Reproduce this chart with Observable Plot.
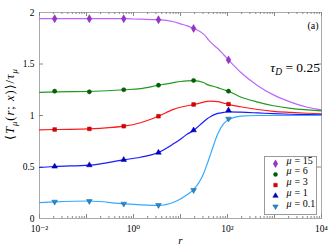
<!DOCTYPE html>
<html>
<head>
<meta charset="utf-8">
<script src="https://cdn.jsdelivr.net/npm/d3@7"></script>
<script src="https://cdn.jsdelivr.net/npm/@observablehq/plot@0.6"></script>
<style>
  html, body { margin: 0; padding: 0; background: #fff; }
  #wrap { position: relative; width: 332px; height: 249px; font-family: "Liberation Serif", "Times New Roman", "DejaVu Serif", serif; }
  #wrap svg, #wrap svg text { font-family: "Liberation Serif", "Times New Roman", "DejaVu Serif", serif; }
  .ov { position: absolute; white-space: nowrap; color: #000; font-family: "Liberation Serif", "Times New Roman", "DejaVu Serif", serif; }
  .ov sub { font-size: 70%; vertical-align: -0.3em; line-height: 0; }
</style>
</head>
<body>
<div id="wrap"></div>
<script>
// ---- data ----
const rCurve = [0.01, 0.021, 0.115, 0.62, 1.4, 3.4, 7.1, 10, 14, 19, 31, 37, 44, 62, 83, 105, 190, 440, 950, 2200, 5000, 10000];
const curveMu15 = [1.94, 1.94, 1.94, 1.94, 1.935, 1.93, 1.91, 1.89, 1.87, 1.845, 1.79, 1.75, 1.71, 1.65, 1.59, 1.54, 1.42, 1.29, 1.20, 1.13, 1.08, 1.055];
const curveMu6  = [1.225, 1.23, 1.233, 1.25, 1.26, 1.294, 1.32, 1.33, 1.336, 1.338, 1.32, 1.30, 1.29, 1.27, 1.25, 1.236, 1.18, 1.13, 1.095, 1.07, 1.055, 1.045];
const curveMu3  = [0.86, 0.864, 0.87, 0.896, 0.93, 0.993, 1.06, 1.08, 1.095, 1.105, 1.13, 1.137, 1.14, 1.135, 1.12, 1.108, 1.085, 1.058, 1.04, 1.03, 1.022, 1.017];
const curveMu1  = [0.495, 0.505, 0.518, 0.57, 0.595, 0.641, 0.725, 0.77, 0.82, 0.855, 0.94, 0.968, 0.99, 1.02, 1.03, 1.035, 1.032, 1.025, 1.018, 1.012, 1.008, 1.006];
const curveMu01 = [0.155, 0.162, 0.17, 0.143, 0.133, 0.127, 0.158, 0.19, 0.233, 0.28, 0.436, 0.53, 0.63, 0.82, 0.92, 0.958, 0.993, 1.0, 1.0, 1.0, 1.0, 1.0];

const rMarks = [0.021, 0.115, 0.62, 3.4, 19, 105];
const markMu15 = [1.94, 1.94, 1.94, 1.93, 1.845, 1.54];
const markMu6  = [1.236, 1.23, 1.25, 1.294, 1.34, 1.236];
const markMu3  = [0.864, 0.87, 0.896, 0.993, 1.107, 1.11];
const markMu1  = [0.505, 0.518, 0.57, 0.64, 0.857, 1.05];
const markMu01 = [0.162, 0.168, 0.143, 0.13, 0.275, 0.968];

const muLabels = ["15", "6", "3", "1", "0.1"];
const curves = [curveMu15, curveMu6, curveMu3, curveMu1, curveMu01];
const marks = [markMu15, markMu6, markMu3, markMu1, markMu01];
const lineColors = ["#bb66ff", "#1f9a1f", "#ff1a1a", "#1a1aff", "#33aaff"];
const markColors = ["#9933cc", "#006400", "#dd0000", "#0000cc", "#2288cc"];
const symbols = ["diamond", "circle", "square", "triangle", "triangle"];
const rotations = [0, 0, 0, 0, 180];

const xMajorTicks = [0.01, 0.1, 1, 10, 100, 1000, 10000];
const xLabelTicks = [0.01, 1, 100, 10000];
const xLabelText = ["10\u207B\u00B2", "10\u2070", "10\u00B2", "10\u2074"];
const yTicks = [0, 0.5, 1, 1.5, 2];
const yInnerTicks = [0.5, 1, 1.5];

// minor log ticks (axis decoration)
const xMinorTicks = [];
for (let e = -2; e < 4; e++) for (let k = 2; k <= 9; k++) xMinorTicks.push(k * Math.pow(10, e));

// ---- tables ----
const lineData = [];
curves.forEach((vals, s) => vals.forEach((v, i) => lineData.push({r: rCurve[i], v, s})));
const markData = [];
marks.forEach((vals, s) => vals.forEach((v, i) => markData.push({r: rMarks[i], v, s})));

const W = 332, H = 249, mL = 39, mR = 11, mT = 12, mB = 31;
const fw = W - mL - mR, fh = H - mT - mB;
const tickCol = "#888";
const FONT = '"Liberation Serif", "Times New Roman", "DejaVu Serif", serif';

const plotMarks = [
  Plot.frame({stroke: "#aaa"}),
  Plot.tickX(xMajorTicks, {x: d => d, insetTop: fh - 4, stroke: tickCol}),
  Plot.tickX(xMinorTicks, {x: d => d, insetTop: fh - 2, stroke: tickCol}),
  Plot.tickX(xMajorTicks, {x: d => d, insetBottom: fh - 4, stroke: tickCol}),
  Plot.tickX(xMinorTicks, {x: d => d, insetBottom: fh - 2, stroke: tickCol}),
  Plot.tickY(yInnerTicks, {y: d => d, insetRight: fw - 4, stroke: tickCol}),
  Plot.tickY(yInnerTicks, {y: d => d, insetLeft: fw - 4, stroke: tickCol}),
  Plot.axisX({ticks: xLabelTicks, tickSize: 0, tickPadding: 7, tickFormat: d => xLabelText[xLabelTicks.indexOf(d)], fontSize: 9.5, fontFamily: FONT, label: null}),
  Plot.axisY({ticks: yTicks, tickSize: 0, tickPadding: 5, tickFormat: d => String(d), fontSize: 9.5, fontFamily: FONT, label: null}),
];

curves.forEach((_, s) => {
  plotMarks.push(Plot.line(lineData.filter(d => d.s === s), {x: "r", y: "v", stroke: lineColors[s], strokeWidth: 1.2, curve: "monotone-x"}));
});
marks.forEach((_, s) => {
  plotMarks.push(Plot.dot(markData.filter(d => d.s === s), {x: "r", y: "v", symbol: symbols[s], rotate: rotations[s], r: s === 0 ? 2.4 : 2.1, fill: markColors[s], stroke: d3.color(markColors[s]).darker(0.8).formatHex(), strokeWidth: 0.5}));
});

// legend entries
muLabels.forEach((mu, s) => {
  const dy = -(12 + (4 - s) * 10.7);
  plotMarks.push(Plot.dot([0], {frameAnchor: "bottom-right", dx: -46, dy, symbol: symbols[s], rotate: rotations[s], r: s === 0 ? 2.3 : 2.0, fill: markColors[s], stroke: d3.color(markColors[s]).darker(0.8).formatHex(), strokeWidth: 0.5}));
  plotMarks.push(Plot.text(["\u03BC"], {frameAnchor: "bottom-right", dx: -35, dy, textAnchor: "start", fontStyle: "italic", fontSize: 10, fontFamily: FONT}));
  plotMarks.push(Plot.text(["= " + mu], {frameAnchor: "bottom-right", dx: -27, dy, textAnchor: "start", fontSize: 10, fontFamily: FONT}));
});

// x label
plotMarks.push(Plot.text(["r"], {frameAnchor: "bottom", dy: 25, fontStyle: "italic", fontSize: 11, fontFamily: FONT}));
// panel tag
plotMarks.push(Plot.text(["(a)"], {frameAnchor: "top-right", dx: -3, dy: 9, textAnchor: "end", fontSize: 10, fontFamily: FONT}));

const chart = Plot.plot({
  width: W, height: H,
  marginLeft: mL, marginRight: mR, marginTop: mT, marginBottom: mB,
  style: {fontFamily: FONT, background: "#fff", color: "#000"},
  x: {type: "log", domain: [0.01, 10000]},
  y: {domain: [0, 2]},
  marks: plotMarks
});

const wrap = document.getElementById("wrap");
wrap.appendChild(chart);

// legend box
const svg = d3.select(chart);
svg.append("rect").attr("x", 264.5).attr("y", 156.5).attr("width", 52).attr("height", 58)
  .attr("fill", "none").attr("stroke", "#999").attr("stroke-width", 1);

// annotations with sub/superscripts
const tau = document.createElement("div");
tau.className = "ov";
tau.style.cssText = "right:12px; top:60px; font-size:13.5px;";
tau.innerHTML = "<i>\u03C4</i><sub><i>D</i></sub> = 0.25";
wrap.appendChild(tau);

const ylab = document.createElement("div");
ylab.className = "ov";
ylab.style.cssText = "left:10px; top:104px; font-size:12.5px; letter-spacing:1px; transform: translate(-50%,-50%) rotate(-90deg);";
ylab.innerHTML = "\u27E8<i>T</i><sub><i>\u03BC</i></sub>(<i>r</i>; <i>x</i>)\u27E9/<i>\u03C4</i><sub><i>\u03BC</i></sub>";
wrap.appendChild(ylab);
</script>
</body>
</html>
